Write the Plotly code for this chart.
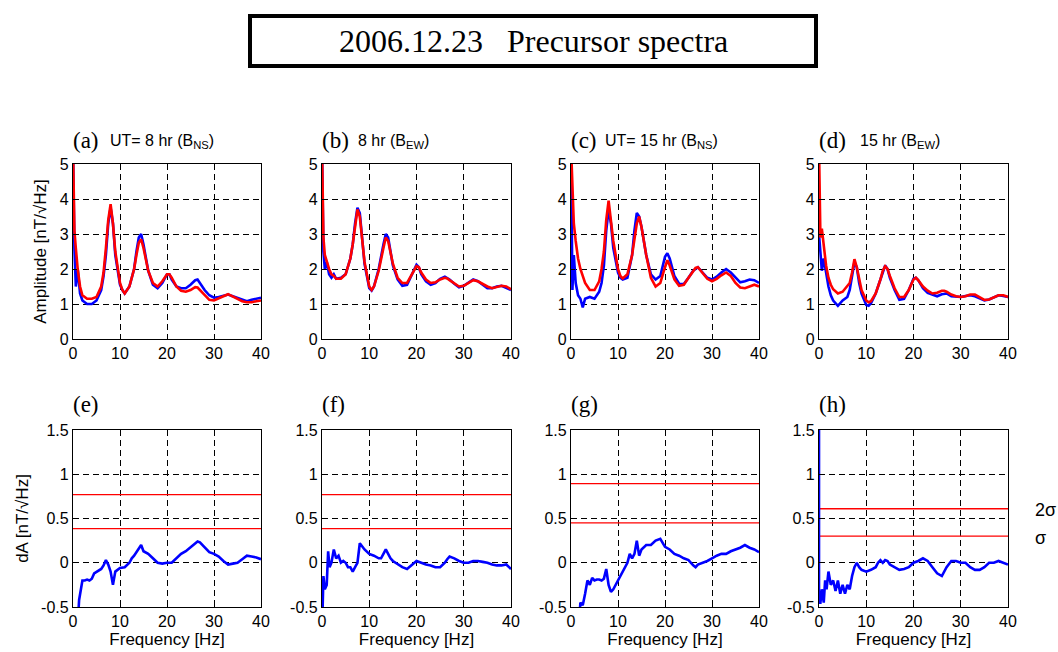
import plotly.graph_objects as go

W, H = 1058, 652

FREQ_TOP = [0, 0.3, 0.6, 1, 1.5, 2, 2.5, 3, 4, 5, 6, 6.5, 7, 7.5, 8, 8.5, 9, 10, 10.5, 11,
            12, 13, 13.5, 14, 14.5, 15, 16, 17, 18, 19, 20, 20.5, 21, 22, 23, 24, 25, 26, 26.5,
            27, 28, 29, 30, 31, 32, 33, 34, 35, 36, 37, 38, 39, 40]

A_RED = [5.5, 3.1, 2.6, 2.0, 1.5, 1.25, 1.2, 1.15, 1.15, 1.2, 1.5, 1.9, 2.6, 3.4, 3.85, 3.3, 2.5, 1.6, 1.4, 1.3,
         1.5, 2.0, 2.4, 2.75, 2.85, 2.6, 1.95, 1.6, 1.5, 1.65, 1.85, 1.85, 1.75, 1.5, 1.38, 1.35, 1.4, 1.48, 1.47,
         1.4, 1.25, 1.12, 1.1, 1.15, 1.22, 1.28, 1.22, 1.15, 1.08, 1.05, 1.05, 1.08, 1.1]
A_BLUE = [5.5, 2.6, 1.5, 2.0, 1.3, 1.1, 1.05, 1.0, 1.0, 1.1, 1.4, 1.8, 2.4, 3.3, 3.75, 3.3, 2.4, 1.55, 1.4, 1.3,
          1.5, 2.0, 2.5, 2.9, 3.0, 2.7, 1.95, 1.55, 1.45, 1.6, 1.85, 1.85, 1.7, 1.5, 1.45, 1.45, 1.55, 1.68, 1.7,
          1.6, 1.4, 1.25, 1.18, 1.2, 1.24, 1.27, 1.22, 1.18, 1.12, 1.08, 1.12, 1.15, 1.18]
B_RED = [5.5, 2.9, 2.4, 2.2, 2.0, 1.85, 1.8, 1.72, 1.72, 1.85, 2.3, 2.7, 3.2, 3.7, 3.5, 2.9, 2.2, 1.5, 1.4, 1.5,
         1.95, 2.6, 2.9, 2.8, 2.5, 2.15, 1.75, 1.6, 1.6, 1.85, 2.08, 2.05, 1.9, 1.7, 1.6, 1.62, 1.7, 1.75, 1.73,
         1.68, 1.58, 1.5, 1.52, 1.6, 1.68, 1.65, 1.57, 1.5, 1.45, 1.48, 1.52, 1.5, 1.42]
B_BLUE = [5.5, 2.5, 2.0, 2.2, 1.85, 1.75, 1.85, 1.72, 1.75, 1.85, 2.3, 2.7, 3.3, 3.75, 3.6, 2.9, 2.15, 1.45, 1.38, 1.5,
          2.0, 2.7, 3.0, 2.9, 2.5, 2.1, 1.7, 1.52, 1.55, 1.85, 2.12, 2.05, 1.85, 1.65, 1.55, 1.6, 1.72, 1.78, 1.75,
          1.7, 1.58, 1.48, 1.52, 1.62, 1.7, 1.65, 1.55, 1.45, 1.45, 1.5, 1.52, 1.45, 1.4]
C_RED = [5.5, 4.5, 3.3, 2.8, 2.3, 2.0, 1.8, 1.6, 1.4, 1.4, 1.65, 2.0, 2.5, 3.4, 3.95, 3.4, 2.8, 2.0, 1.8, 1.73,
         1.85, 2.4, 2.9, 3.3, 3.5, 3.2, 2.4, 1.75, 1.5, 1.6, 2.05, 2.25, 2.1, 1.7, 1.52, 1.55, 1.75, 1.95, 2.03,
         2.05, 1.9, 1.72, 1.65, 1.72, 1.82, 1.9, 1.8, 1.6, 1.47, 1.45, 1.5, 1.55, 1.5]
C_BLUE = [5.5, 1.4, 2.4, 1.6, 1.25, 1.15, 0.9, 1.15, 1.2, 1.15, 1.35, 1.6, 2.1, 3.1, 3.7, 3.3, 2.6, 1.9, 1.75, 1.7,
          1.75, 2.4, 3.1, 3.6, 3.5, 3.2, 2.4, 1.85, 1.7, 1.8, 2.35, 2.45, 2.3, 1.8, 1.58, 1.57, 1.75, 1.95, 2.0,
          2.05, 1.9, 1.75, 1.7, 1.78, 1.9, 2.0, 1.9, 1.75, 1.62, 1.65, 1.7, 1.68, 1.6]
D_RED = [5.5, 2.9, 3.15, 2.6, 2.1, 1.75, 1.55, 1.42, 1.3, 1.35, 1.5, 1.6, 1.9, 2.28, 2.05, 1.7, 1.4, 1.1, 1.05, 1.08,
         1.3, 1.7, 1.95, 2.08, 2.0, 1.8, 1.45, 1.2, 1.2, 1.4, 1.7, 1.75, 1.68, 1.5, 1.38, 1.3, 1.32, 1.38, 1.38,
         1.35, 1.27, 1.22, 1.2, 1.22, 1.27, 1.27, 1.2, 1.12, 1.13, 1.18, 1.25, 1.25, 1.2]
D_BLUE = [3.0, 2.3, 1.95, 2.3, 1.85, 1.5, 1.25, 1.1, 0.95, 1.1, 1.2, 1.4, 1.8, 2.2, 2.05, 1.6, 1.3, 0.97, 0.95, 1.02,
          1.3, 1.7, 1.95, 2.1, 2.0, 1.75, 1.4, 1.12, 1.15, 1.4, 1.72, 1.75, 1.68, 1.45, 1.32, 1.27, 1.22, 1.28, 1.3,
          1.3, 1.22, 1.2, 1.2, 1.23, 1.25, 1.22, 1.15, 1.1, 1.13, 1.2, 1.25, 1.23, 1.2]

FREQ_DA = [0, 0.3, 0.6, 1, 1.3, 1.6, 2, 2.5, 3, 3.5, 4, 4.5, 5, 5.5, 6, 6.5, 7, 7.5, 8, 8.5,
           9, 10, 11, 12, 12.5, 13, 13.5, 14, 14.5, 15, 16, 17, 18, 19, 20, 21, 22, 23, 24, 25,
           26, 26.5, 27, 28, 29, 30, 31, 32, 33, 34, 35, 36, 37, 38, 39, 40]
DA_E = [-1.5, -1.2, -1.0, -0.7, -0.42, -0.3, -0.2, -0.2, -0.19, -0.2, -0.18, -0.12, -0.1, -0.08, -0.07, -0.03, 0.03, -0.02, -0.1, -0.25,
        -0.1, -0.06, -0.05, 0.0, 0.05, 0.08, 0.12, 0.16, 0.2, 0.13, 0.1, 0.05, 0.0, -0.01, 0.0, 0.0, 0.05, 0.1, 0.13, 0.17,
        0.21, 0.24, 0.23, 0.18, 0.12, 0.1, 0.07, 0.02, -0.02, -0.01, 0.0, 0.04, 0.08, 0.07, 0.06, 0.04]
DA_F = [-0.8, -0.15, -0.3, -0.25, 0.13, -0.05, 0.0, 0.15, 0.05, 0.08, 0.0, 0.02, 0.0, -0.05, -0.05, -0.1, -0.05, 0.0, 0.22, 0.18,
        0.15, 0.1, 0.08, 0.05, 0.05, 0.1, 0.15, 0.1, 0.05, 0.02, -0.02, -0.05, -0.07, -0.03, 0.02, 0.0, -0.02, -0.03, -0.05, -0.05,
        0.0, 0.04, 0.07, 0.05, 0.02, 0.0, 0.0, 0.02, 0.02, 0.01, 0.0, -0.02, -0.03, -0.03, -0.02, -0.07]
DA_G = [-1.5, -1.4, -1.2, -1.0, -0.9, -0.75, -0.45, -0.48, -0.35, -0.2, -0.25, -0.17, -0.2, -0.19, -0.19, -0.2, -0.18, -0.07, -0.25, -0.33,
        -0.3, -0.2, -0.1, 0.0, 0.1, 0.05, 0.1, 0.25, 0.08, 0.15, 0.2, 0.2, 0.25, 0.27, 0.18, 0.15, 0.1, 0.08, 0.05, 0.03,
        -0.03, -0.05, -0.02, 0.0, 0.02, 0.05, 0.08, 0.1, 0.1, 0.13, 0.15, 0.17, 0.2, 0.17, 0.15, 0.12]
FREQ_DA_H = [0] + FREQ_DA
DA_H = [2.0, -0.45, -0.45, -0.3, -0.45, -0.2, -0.3, -0.1, -0.25, -0.2, -0.32, -0.2, -0.35, -0.25, -0.35, -0.25, -0.3, -0.15, -0.05, 0.0, -0.05,
        -0.08, -0.1, -0.08, -0.05, 0.0, 0.03, 0.0, 0.03, 0.02, -0.02, -0.05, -0.08, -0.07, -0.05, 0.0, 0.02, 0.05, 0.02, -0.05, -0.12,
        -0.15, -0.1, -0.05, 0.02, 0.02, 0.0, 0.0, -0.05, -0.08, -0.08, -0.05, 0.0, 0.0, 0.02, 0.0, -0.02]

SIGMA = [0.385, 0.385, 0.45, 0.30]
TWO_SIGMA = [0.77, 0.77, 0.895, 0.61]

TOP_LETTERS = ["(a)", "(b)", "(c)", "(d)"]
BOT_LETTERS = ["(e)", "(f)", "(g)", "(h)"]
SUBTITLES = ["UT= 8 hr (B<sub>NS</sub>)", "8 hr (B<sub>EW</sub>)",
             "UT= 15 hr (B<sub>NS</sub>)", "15 hr (B<sub>EW</sub>)"]
X_TICKS = [0, 10, 20, 30, 40]
Y_TICKS_TOP = [0, 1, 2, 3, 4, 5]
Y_TICKS_BOT = [-0.5, 0, 0.5, 1, 1.5]
Y_TICKTEXT_BOT = ["-0.5", "0", "0.5", "1", "1.5"]

# layout in pixels
PANEL_X = [(73, 261), (322, 511), (571, 759), (819, 1008)]
SUB_X = [108, 356, 603, 858]
TOP_Y = (164, 339)
BOT_Y = (430, 607)

def px_x(p):
    return p / W

def px_y(p):
    return 1 - p / H

BLUE = "#0000ff"
RED = "#ff0000"
SANS = "Liberation Sans, Arial, sans-serif"
SERIF = "Liberation Serif, Times New Roman, serif"

fig = go.Figure()
layout = dict(width=W, height=H, margin=dict(l=0, r=0, t=0, b=0, autoexpand=False),
              paper_bgcolor="white", plot_bgcolor="white", showlegend=False)

top_series = [(A_BLUE, A_RED), (B_BLUE, B_RED), (C_BLUE, C_RED), (D_BLUE, D_RED)]
bot_series = [(FREQ_DA, DA_E), (FREQ_DA, DA_F), (FREQ_DA, DA_G), (FREQ_DA_H, DA_H)]

def axis_common():
    return dict(showline=True, mirror=True, linecolor="black", linewidth=1.3,
                showgrid=True, gridcolor="black", gridwidth=1, griddash="6px,4px",
                zeroline=False, ticks="inside", ticklen=4, tickcolor="black", automargin=False,
                tickfont=dict(family=SANS, size=16, color="black"))

annotations = []
for i in range(4):
    x0, x1 = PANEL_X[i]
    # top row
    k = 2 * i + 1
    xa = "x" if k == 1 else f"x{k}"
    ya = "y" if k == 1 else f"y{k}"
    ax_x = axis_common()
    ax_x.update(domain=[px_x(x0), px_x(x1)], range=[0, 40], tickvals=X_TICKS, anchor=ya)
    ax_y = axis_common()
    ax_y.update(domain=[px_y(TOP_Y[1]), px_y(TOP_Y[0])], range=[0, 5], tickvals=Y_TICKS_TOP, anchor=xa)
    if i == 0:
        ax_y["title"] = dict(text="Amplitude [nT/√Hz]", font=dict(family=SANS, size=17, color="black"), standoff=8)
    layout["xaxis" if k == 1 else f"xaxis{k}"] = ax_x
    layout["yaxis" if k == 1 else f"yaxis{k}"] = ax_y
    blue, red = top_series[i]
    fig.add_trace(go.Scatter(x=FREQ_TOP, y=blue, mode="lines", line=dict(color=BLUE, width=2.6), xaxis=xa, yaxis=ya))
    fig.add_trace(go.Scatter(x=FREQ_TOP, y=red, mode="lines", line=dict(color=RED, width=2.6), xaxis=xa, yaxis=ya))

    # bottom row
    k2 = 2 * i + 2
    xa2 = f"x{k2}"
    ya2 = f"y{k2}"
    bx = axis_common()
    bx.update(domain=[px_x(x0), px_x(x1)], range=[0, 40], tickvals=X_TICKS, anchor=ya2,
              title=dict(text="Frequency [Hz]", font=dict(family=SANS, size=17, color="black"), standoff=1))
    by = axis_common()
    by.update(domain=[px_y(BOT_Y[1]), px_y(BOT_Y[0])], range=[-0.5, 1.5], tickvals=Y_TICKS_BOT,
              ticktext=Y_TICKTEXT_BOT, anchor=xa2)
    if i == 0:
        by["title"] = dict(text="dA [nT/√Hz]", font=dict(family=SANS, size=17, color="black"), standoff=8)
    layout[f"xaxis{k2}"] = bx
    layout[f"yaxis{k2}"] = by
    fx, fy = bot_series[i]
    fig.add_trace(go.Scatter(x=[0, 40], y=[TWO_SIGMA[i]] * 2, mode="lines", line=dict(color=RED, width=1.3),
                             xaxis=xa2, yaxis=ya2))
    fig.add_trace(go.Scatter(x=[0, 40], y=[SIGMA[i]] * 2, mode="lines", line=dict(color=RED, width=1.3),
                             xaxis=xa2, yaxis=ya2))
    fig.add_trace(go.Scatter(x=fx, y=fy, mode="lines", line=dict(color=BLUE, width=2.6), xaxis=xa2, yaxis=ya2))

    # labels
    annotations.append(dict(text=TOP_LETTERS[i], x=px_x(x0 - 2), y=px_y(140), xref="paper", yref="paper",
                            xanchor="left", yanchor="middle", showarrow=False,
                            font=dict(family=SERIF, size=23, color="black")))
    annotations.append(dict(text=SUBTITLES[i], x=px_x(SUB_X[i]), y=px_y(142),
                            xref="paper", yref="paper", xanchor="left", yanchor="middle", showarrow=False,
                            font=dict(family=SANS, size=16, color="black")))
    annotations.append(dict(text=BOT_LETTERS[i], x=px_x(x0 - 2), y=px_y(404), xref="paper", yref="paper",
                            xanchor="left", yanchor="middle", showarrow=False,
                            font=dict(family=SERIF, size=23, color="black")))

annotations.append(dict(text="2σ", x=px_x(1033), y=px_y(510), xref="paper", yref="paper",
                        xanchor="left", yanchor="middle", showarrow=False,
                        font=dict(family=SANS, size=18, color="black")))
annotations.append(dict(text="σ", x=px_x(1033), y=px_y(538), xref="paper", yref="paper",
                        xanchor="left", yanchor="middle", showarrow=False,
                        font=dict(family=SANS, size=18, color="black")))
annotations.append(dict(text="2006.12.23   Precursor spectra", x=px_x(533), y=px_y(41), xref="paper", yref="paper",
                        xanchor="center", yanchor="middle", showarrow=False,
                        font=dict(family=SERIF, size=32, color="black")))
layout["annotations"] = annotations
layout["shapes"] = [dict(type="rect", xref="paper", yref="paper", x0=px_x(250), x1=px_x(816),
                         y0=px_y(66), y1=px_y(16), line=dict(color="black", width=4))]

fig.update_layout(**layout)
fig.write_html("out.html", config={"displayModeBar": False},
               post_script="document.body.style.margin='0px';document.body.style.overflow='hidden';")
